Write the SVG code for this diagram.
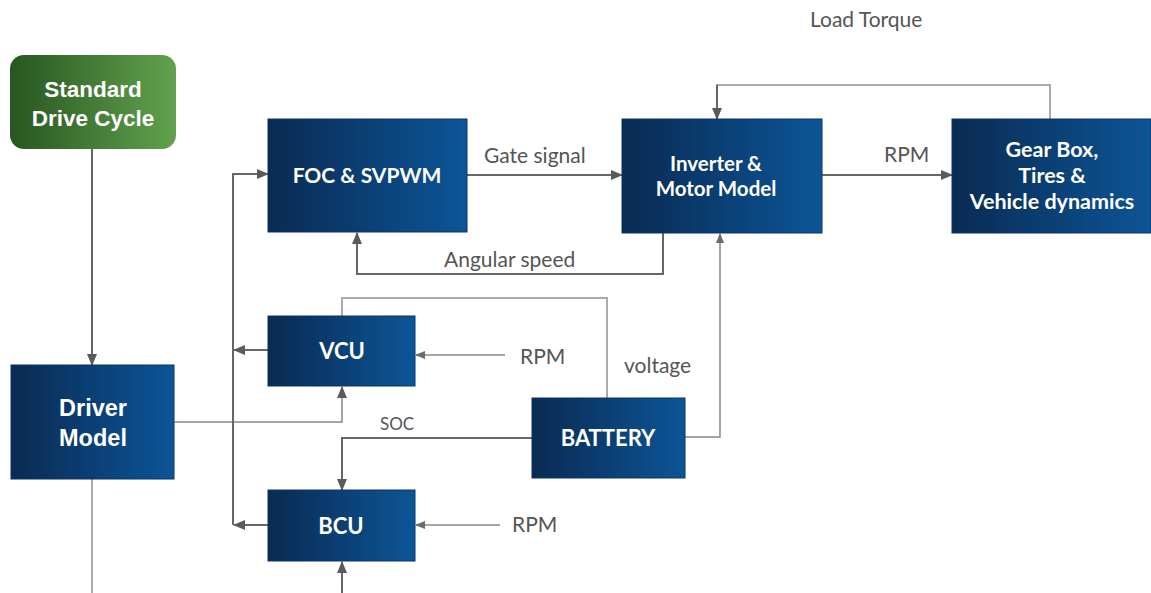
<svg xmlns="http://www.w3.org/2000/svg" width="1151" height="593" viewBox="0 0 1151 593">
<defs>
<linearGradient id="gb" x1="0" y1="0" x2="1" y2="0">
<stop offset="0" stop-color="#0a2a52"/>
<stop offset="1" stop-color="#0c5597"/>
</linearGradient>
<linearGradient id="gg" x1="0" y1="0" x2="1" y2="0">
<stop offset="0" stop-color="#275620"/>
<stop offset="1" stop-color="#62a24e"/>
</linearGradient>
<marker id="ah" viewBox="0 0 12 10" refX="11" refY="5" markerWidth="12" markerHeight="10" markerUnits="userSpaceOnUse" orient="auto">
<path d="M0,0 L12,5 L0,10 Z" fill="#5a5a5a"/>
</marker>
<marker id="ahs" viewBox="0 0 10 8" refX="9" refY="4" markerWidth="10" markerHeight="8" markerUnits="userSpaceOnUse" orient="auto">
<path d="M0,0 L10,4 L0,8 Z" fill="#6a6a6a"/>
</marker>
</defs>
<style>
.box{fill:url(#gb);stroke:#0a3468;stroke-width:1}
.lt{font-family:Lato,"Liberation Sans",sans-serif;font-weight:bold;fill:#fff;text-anchor:middle}
.at{font-family:"Liberation Sans",Arial,sans-serif;font-weight:bold;fill:#fff;text-anchor:middle}
.lab{font-family:Lato,"Liberation Sans",sans-serif;fill:#555;font-size:21px}
.small{font-size:17px}
.c{fill:none;stroke:#666;stroke-width:2}
.cl{fill:none;stroke:#aaa;stroke-width:2}
.cm{fill:none;stroke:#888;stroke-width:1.5}
</style>
<rect width="1151" height="593" fill="#fff"/>
<g id="connectors">
<path class="c" d="M92,149 V365" marker-end="url(#ah)"/>
<path class="cl" d="M92,479 V593"/>
<path class="cm" d="M174,422 H342 V387" marker-end="url(#ah)"/>
<path class="c" d="M233,525 V174 H268" marker-end="url(#ah)"/>
<path class="c" d="M268,350 H234" marker-end="url(#ah)"/>
<path class="c" d="M268,525 H234" marker-end="url(#ah)"/>
<path class="c" d="M467,175 H622" marker-end="url(#ah)"/>
<path class="c" d="M822,175 H952" marker-end="url(#ah)"/>
<path class="cl" d="M1050,119 V85 H716"/>
<path class="c" d="M717,85 V119" marker-end="url(#ah)"/>
<path class="c" d="M663,233 V274 H357 V233" marker-end="url(#ah)"/>
<path class="cl" d="M342,316 V298 H607 V398"/>
<path class="cm" d="M505,355 H416" marker-end="url(#ahs)"/>
<path class="cm" d="M685,437 H720 V234" marker-end="url(#ahs)"/>
<path class="c" d="M532,438 H342 V490" marker-end="url(#ah)"/>
<path class="cm" d="M500,525 H416" marker-end="url(#ahs)"/>
<path class="c" d="M342,593 V562" marker-end="url(#ah)"/>
</g>
<g id="standard-drive-cycle">
<rect x="10" y="55" width="166" height="94" rx="14" fill="url(#gg)"/>
<text class="at" x="93" y="97" font-size="22.5">Standard</text>
<text class="at" x="93" y="126" font-size="22.5">Drive Cycle</text>
</g>
<g id="driver-model">
<rect class="box" x="11" y="365" width="163" height="114"/>
<text class="at" x="93" y="416" font-size="23.5">Driver</text>
<text class="at" x="93" y="446" font-size="23.5">Model</text>
</g>
<g id="foc">
<rect class="box" x="268" y="119" width="199" height="113"/>
<text class="lt" x="367" y="183" font-size="21">FOC &amp; SVPWM</text>
</g>
<g id="inverter">
<rect class="box" x="622" y="119" width="200" height="114"/>
<text class="lt" x="716" y="171" font-size="20.5">Inverter &amp;</text>
<text class="lt" x="716" y="196" font-size="20.5">Motor Model</text>
</g>
<g id="gearbox">
<rect class="box" x="952" y="119" width="199" height="114"/>
<text class="lt" x="1052" y="157" font-size="21.5">Gear Box,</text>
<text class="lt" x="1052" y="183" font-size="21.5">Tires &amp;</text>
<text class="lt" x="1052" y="209" font-size="21.5">Vehicle dynamics</text>
</g>
<g id="vcu">
<rect class="box" x="268" y="316" width="147" height="70"/>
<text class="lt" x="342" y="359" font-size="22">VCU</text>
</g>
<g id="battery">
<rect class="box" x="532" y="398" width="153" height="80"/>
<text class="lt" x="608" y="446" font-size="22">BATTERY</text>
</g>
<g id="bcu">
<rect class="box" x="268" y="490" width="147" height="71"/>
<text class="lt" x="341" y="534" font-size="22">BCU</text>
</g>
<g id="labels">
<text class="lab" x="484" y="163">Gate signal</text>
<text class="lab" x="884" y="162">RPM</text>
<text class="lab" x="444" y="267">Angular speed</text>
<text class="lab" x="810" y="27">Load Torque</text>
<text class="lab" x="520" y="364">RPM</text>
<text class="lab" x="624" y="373">voltage</text>
<text class="lab small" x="380" y="430">SOC</text>
<text class="lab" x="512" y="532">RPM</text>
</g>
</svg>
